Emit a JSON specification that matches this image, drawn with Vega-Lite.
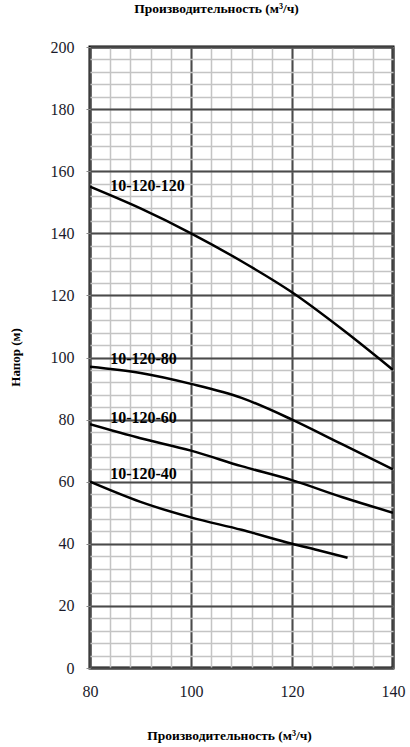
{
  "$schema": "https://vega.github.io/schema/vega-lite/v6.json",
  "width": 303,
  "height": 621,
  "autosize": "none",
  "padding": {"left": 90, "top": 47, "right": 17, "bottom": 79},
  "background": "white",
  "title": {
    "text": "Производительность (м³/ч)",
    "font": "Times New Roman, Liberation Serif, serif",
    "fontSize": 13.5,
    "fontWeight": "bold",
    "color": "black",
    "anchor": "middle",
    "dx": -25,
    "offset": 24
  },
  "config": {
    "view": {"stroke": "black", "strokeWidth": 3},
    "axis": {"labelFont": "Times New Roman, Liberation Serif, serif", "titleFont": "Times New Roman, Liberation Serif, serif"}
  },
  "datasets": {
    "curves": [
      {"q": 80, "h": 155, "model": "10-120-120"},
      {"q": 90, "h": 148, "model": "10-120-120"},
      {"q": 100, "h": 140, "model": "10-120-120"},
      {"q": 110, "h": 131, "model": "10-120-120"},
      {"q": 120, "h": 121, "model": "10-120-120"},
      {"q": 130, "h": 109, "model": "10-120-120"},
      {"q": 140, "h": 96, "model": "10-120-120"},
      {"q": 80, "h": 97, "model": "10-120-80"},
      {"q": 90, "h": 95, "model": "10-120-80"},
      {"q": 100, "h": 91.5, "model": "10-120-80"},
      {"q": 110, "h": 87, "model": "10-120-80"},
      {"q": 120, "h": 80, "model": "10-120-80"},
      {"q": 130, "h": 72, "model": "10-120-80"},
      {"q": 140, "h": 64, "model": "10-120-80"},
      {"q": 80, "h": 78.5, "model": "10-120-60"},
      {"q": 90, "h": 74, "model": "10-120-60"},
      {"q": 100, "h": 70, "model": "10-120-60"},
      {"q": 110, "h": 65, "model": "10-120-60"},
      {"q": 120, "h": 60.5, "model": "10-120-60"},
      {"q": 130, "h": 55, "model": "10-120-60"},
      {"q": 140, "h": 50, "model": "10-120-60"},
      {"q": 80, "h": 60, "model": "10-120-40"},
      {"q": 90, "h": 53.5, "model": "10-120-40"},
      {"q": 100, "h": 48.5, "model": "10-120-40"},
      {"q": 110, "h": 44.5, "model": "10-120-40"},
      {"q": 120, "h": 40, "model": "10-120-40"},
      {"q": 125, "h": 38, "model": "10-120-40"},
      {"q": 131, "h": 35.5, "model": "10-120-40"}
    ],
    "labels": [
      {"q": 84, "h": 155.2, "model": "10-120-120"},
      {"q": 84, "h": 99.5, "model": "10-120-80"},
      {"q": 84, "h": 80.5, "model": "10-120-60"},
      {"q": 84, "h": 62.5, "model": "10-120-40"}
    ]
  },
  "resolve": {"axis": {"x": "independent", "y": "independent"}},
  "layer": [
    {
      "data": {"name": "curves"},
      "mark": {"type": "line", "interpolate": "monotone", "color": "black", "strokeWidth": 2.5, "clip": true},
      "encoding": {
        "x": {
          "field": "q", "type": "quantitative",
          "scale": {"domain": [80, 140], "nice": false, "zero": false},
          "axis": {
            "orient": "bottom",
            "values": [80, 84, 88, 92, 96, 100, 104, 108, 112, 116, 120, 124, 128, 132, 136, 140],
            "grid": true, "gridColor": "#c4c4c4", "gridWidth": 1.5, "gridOpacity": 1,
            "labels": false, "ticks": false, "domain": false, "title": null
          }
        },
        "y": {
          "field": "h", "type": "quantitative",
          "scale": {"domain": [0, 200], "nice": false},
          "axis": {
            "orient": "left",
            "values": [0, 4, 8, 12, 16, 20, 24, 28, 32, 36, 40, 44, 48, 52, 56, 60, 64, 68, 72, 76, 80, 84, 88, 92, 96, 100, 104, 108, 112, 116, 120, 124, 128, 132, 136, 140, 144, 148, 152, 156, 160, 164, 168, 172, 176, 180, 184, 188, 192, 196, 200],
            "grid": true, "gridColor": "#c4c4c4", "gridWidth": 1.5, "gridOpacity": 1,
            "labels": false, "ticks": false, "domain": false, "title": null
          }
        },
        "detail": {"field": "model", "type": "nominal"}
      }
    },
    {
      "data": {"name": "labels"},
      "mark": {"type": "text", "align": "left", "baseline": "middle", "font": "Times New Roman, Liberation Serif, serif", "fontSize": 16, "fontWeight": "bold", "color": "black"},
      "encoding": {
        "x": {
          "field": "q", "type": "quantitative",
          "axis": {
            "orient": "bottom",
            "values": [80, 100, 120, 140],
            "grid": true, "gridColor": "#4a4a4a", "gridWidth": 2, "gridOpacity": 1,
            "domain": false, "ticks": false, "labelFlush": false,
            "labelFont": "Times New Roman, Liberation Serif, serif",
            "labelFontSize": 16, "labelColor": "#1a1a2a", "labelPadding": 15,
            "title": "Производительность (м³/ч)",
            "titleFontSize": 13.5, "titleFontWeight": "bold", "titleColor": "black",
            "titleX": 139, "titleY": 67, "titleBaseline": "middle"
          }
        },
        "y": {
          "field": "h", "type": "quantitative",
          "axis": {
            "orient": "left",
            "values": [0, 20, 40, 60, 80, 100, 120, 140, 160, 180, 200],
            "grid": true, "gridColor": "#4a4a4a", "gridWidth": 2, "gridOpacity": 1,
            "domain": false, "ticks": true, "tickSize": 4, "tickColor": "#888", "labelFlush": false,
            "labelFont": "Times New Roman, Liberation Serif, serif",
            "labelFontSize": 16, "labelColor": "#1a1a2a", "labelPadding": 12,
            "title": "Напор  (м)",
            "titleFontSize": 13, "titleFontWeight": "bold", "titleColor": "black",
            "titleX": -75, "titleY": 310, "titleAngle": -90, "titleBaseline": "middle", "titleAlign": "center"
          }
        },
        "text": {"field": "model", "type": "nominal"}
      }
    }
  ]
}
